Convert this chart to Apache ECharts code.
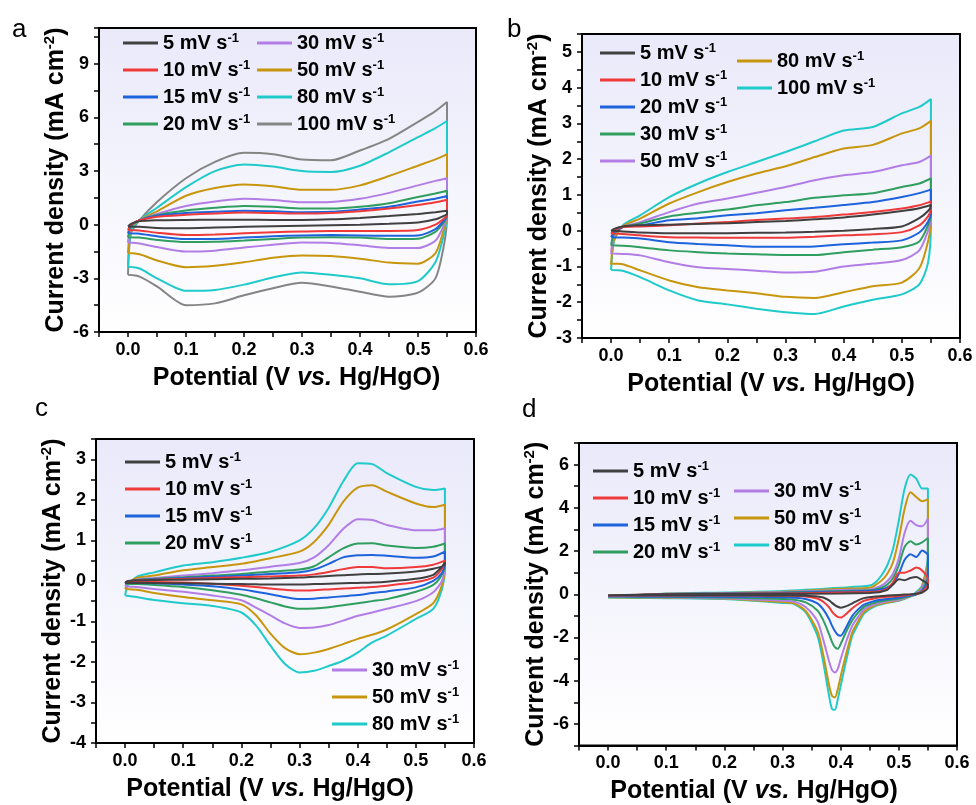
<!DOCTYPE html>
<html>
<head>
<meta charset="utf-8">
<script src="https://cdn.jsdelivr.net/npm/echarts@6/dist/echarts.min.js"></script>
<style>
  html, body { margin: 0; padding: 0; background: #fff; }
  #cv { width: 976px; height: 805px; }
</style>
</head>
<body>
<div id="cv"></div>
<script>
var myChart = echarts.init(document.getElementById('cv'));
var FONT = '"Liberation Sans", Arial, sans-serif';

//------------------------------------------ panel a (potential grid + upper/lower branches)
var potAUp = [0, 0.005, 0.02, 0.05, 0.1, 0.15, 0.2, 0.25, 0.3, 0.35, 0.4, 0.45, 0.5, 0.53, 0.55];
var potALo = [0.55, 0.545, 0.53, 0.5, 0.45, 0.4, 0.35, 0.3, 0.25, 0.2, 0.15, 0.1, 0.05, 0.02, 0];
var upA5   = [-0.1, 0.05, 0.2, 0.25, 0.27, 0.28, 0.28, 0.27, 0.27, 0.3, 0.38, 0.48, 0.6, 0.7, 0.78];
var loA5   = [0.6, 0.5, 0.3, 0.12, 0.05, 0.0, -0.03, -0.06, -0.09, -0.12, -0.16, -0.2, -0.18, -0.12, -0.1];
var upA10  = [-0.3, 0.0, 0.25, 0.45, 0.55, 0.63, 0.68, 0.65, 0.62, 0.65, 0.75, 0.9, 1.1, 1.25, 1.4];
var loA10  = [0.5, 0.35, 0.0, -0.3, -0.35, -0.35, -0.35, -0.38, -0.42, -0.48, -0.55, -0.58, -0.45, -0.32, -0.3];
var upA15  = [-0.48, -0.05, 0.25, 0.5, 0.65, 0.72, 0.78, 0.75, 0.7, 0.72, 0.85, 1.0, 1.3, 1.45, 1.6];
var loA15  = [0.5, 0.25, -0.25, -0.6, -0.62, -0.6, -0.58, -0.6, -0.65, -0.72, -0.8, -0.8, -0.65, -0.5, -0.48];
var upA20  = [-0.7, -0.1, 0.25, 0.55, 0.8, 0.95, 1.05, 1.0, 0.9, 0.9, 1.0, 1.2, 1.55, 1.75, 1.9];
var loA20  = [0.5, 0.15, -0.4, -0.78, -0.8, -0.72, -0.7, -0.72, -0.8, -0.88, -0.95, -0.97, -0.85, -0.72, -0.7];
var upA30  = [-1.0, -0.1, 0.25, 0.6, 1.05, 1.3, 1.45, 1.38, 1.25, 1.27, 1.45, 1.78, 2.2, 2.45, 2.6];
var loA30  = [0.5, 0.0, -0.9, -1.3, -1.3, -1.15, -1.02, -1.0, -1.12, -1.28, -1.45, -1.5, -1.25, -1.05, -1.0];
var upA50  = [-1.58, -0.2, 0.25, 0.75, 1.62, 2.05, 2.25, 2.15, 1.95, 1.95, 2.2, 2.72, 3.3, 3.65, 3.95];
var loA50  = [0.5, -0.2, -1.6, -2.18, -2.12, -1.9, -1.75, -1.72, -1.85, -2.1, -2.3, -2.38, -2.0, -1.65, -1.58];
var upA80  = [-2.35, -0.4, 0.25, 0.95, 2.1, 3.0, 3.37, 3.25, 3.0, 2.95, 3.3, 4.05, 4.9, 5.4, 5.8];
var loA80  = [0.5, -0.5, -2.1, -3.15, -3.33, -3.0, -2.8, -2.67, -2.95, -3.35, -3.65, -3.7, -3.0, -2.45, -2.35];
var upA100 = [-2.8, -0.5, 0.25, 1.27, 2.6, 3.51, 4.02, 3.94, 3.64, 3.6, 4.15, 4.8, 5.75, 6.35, 6.86];
var loA100 = [0.5, -1.1, -3.0, -3.8, -4.03, -3.75, -3.45, -3.25, -3.55, -3.95, -4.4, -4.5, -3.45, -2.9, -2.8];

//------------------------------------------ panel b
var potBUp = [0, 0.005, 0.02, 0.05, 0.1, 0.15, 0.2, 0.25, 0.3, 0.35, 0.4, 0.45, 0.5, 0.53, 0.55];
var potBLo = [0.55, 0.545, 0.53, 0.5, 0.45, 0.4, 0.35, 0.3, 0.25, 0.2, 0.15, 0.1, 0.05, 0.02, 0];
var upB5   = [0.0, 0.05, 0.12, 0.15, 0.17, 0.19, 0.21, 0.24, 0.27, 0.32, 0.37, 0.45, 0.55, 0.63, 0.72];
var loB5   = [0.7, 0.55, 0.35, 0.12, 0.05, 0.0, -0.03, -0.05, -0.06, -0.07, -0.07, -0.07, -0.05, -0.02, 0.0];
var upB10  = [-0.08, 0.0, 0.1, 0.12, 0.15, 0.2, 0.24, 0.3, 0.34, 0.38, 0.45, 0.52, 0.62, 0.71, 0.82];
var loB10  = [0.6, 0.4, 0.15, -0.04, -0.1, -0.13, -0.17, -0.2, -0.2, -0.2, -0.19, -0.18, -0.13, -0.09, -0.08];
var upB20  = [-0.18, -0.05, 0.1, 0.15, 0.29, 0.35, 0.43, 0.49, 0.57, 0.64, 0.72, 0.8, 0.94, 1.05, 1.15];
var loB20  = [0.5, 0.25, -0.05, -0.27, -0.33, -0.38, -0.44, -0.45, -0.45, -0.41, -0.37, -0.32, -0.22, -0.19, -0.18];
var upB30  = [-0.4, -0.1, 0.1, 0.2, 0.4, 0.5, 0.59, 0.71, 0.8, 0.92, 0.99, 1.05, 1.22, 1.32, 1.46];
var loB30  = [0.45, 0.15, -0.3, -0.46, -0.53, -0.6, -0.68, -0.68, -0.66, -0.64, -0.6, -0.55, -0.46, -0.42, -0.41];
var upB50  = [-0.62, -0.15, 0.1, 0.24, 0.52, 0.76, 0.9, 1.06, 1.22, 1.41, 1.55, 1.64, 1.83, 1.92, 2.1];
var loB50  = [0.4, 0.0, -0.55, -0.82, -0.92, -1.0, -1.15, -1.17, -1.12, -1.07, -1.02, -0.88, -0.69, -0.65, -0.64];
var upB80  = [-0.95, -0.25, 0.12, 0.34, 0.76, 1.08, 1.36, 1.6, 1.8, 2.06, 2.3, 2.4, 2.72, 2.86, 3.07];
var loB80  = [0.3, -0.3, -1.05, -1.45, -1.55, -1.72, -1.88, -1.85, -1.75, -1.67, -1.58, -1.39, -1.11, -0.94, -0.92];
var upB100 = [-1.1, -0.3, 0.15, 0.43, 0.94, 1.32, 1.64, 1.92, 2.2, 2.5, 2.8, 2.9, 3.28, 3.46, 3.68];
var loB100 = [0.2, -0.9, -1.5, -1.78, -1.93, -2.12, -2.33, -2.28, -2.18, -2.06, -1.95, -1.67, -1.3, -1.12, -1.1];

//------------------------------------------ panel c
var potCUp = [0, 0.005, 0.02, 0.05, 0.1, 0.15, 0.2, 0.25, 0.3, 0.325, 0.35, 0.375, 0.4, 0.425, 0.45, 0.5, 0.53, 0.55];
var potCLo = [0.55, 0.545, 0.53, 0.5, 0.45, 0.425, 0.4, 0.375, 0.35, 0.325, 0.3, 0.275, 0.25, 0.225, 0.2, 0.15, 0.1, 0.05, 0.02, 0];
var upC5  = [-0.05, 0.0, 0.01, 0.02, 0.03, 0.04, 0.05, 0.06, 0.08, 0.1, 0.12, 0.14, 0.16, 0.17, 0.18, 0.23, 0.3, 0.4];
var loC5  = [0.45, 0.35, 0.15, 0.05, -0.02, -0.04, -0.05, -0.06, -0.07, -0.08, -0.09, -0.09, -0.09, -0.085, -0.08, -0.07, -0.06, -0.05, -0.05, -0.05];
var upC10 = [-0.03, -0.01, 0.01, 0.03, 0.05, 0.07, 0.09, 0.11, 0.13, 0.16, 0.22, 0.29, 0.34, 0.34, 0.31, 0.34, 0.4, 0.5];
var loC10 = [0.5, 0.3, 0.08, -0.03, -0.12, -0.15, -0.17, -0.19, -0.21, -0.23, -0.24, -0.22, -0.19, -0.15, -0.12, -0.07, -0.04, -0.03, -0.03, -0.03];
var upC15 = [-0.05, -0.02, 0.02, 0.04, 0.07, 0.1, 0.13, 0.17, 0.21, 0.28, 0.42, 0.58, 0.63, 0.64, 0.62, 0.57, 0.6, 0.72];
var loC15 = [0.45, 0.2, 0.0, -0.16, -0.26, -0.3, -0.35, -0.38, -0.41, -0.44, -0.45, -0.4, -0.33, -0.27, -0.21, -0.13, -0.09, -0.06, -0.05, -0.05];
var upC20 = [-0.07, -0.03, 0.02, 0.05, 0.09, 0.13, 0.17, 0.23, 0.28, 0.36, 0.58, 0.8, 0.92, 0.93, 0.87, 0.81, 0.84, 0.92];
var loC20 = [0.4, 0.15, -0.1, -0.27, -0.45, -0.5, -0.55, -0.6, -0.65, -0.68, -0.69, -0.63, -0.53, -0.43, -0.34, -0.23, -0.15, -0.1, -0.08, -0.07];
var upC30 = [-0.14, -0.05, 0.03, 0.07, 0.13, 0.19, 0.26, 0.35, 0.44, 0.58, 0.88, 1.28, 1.52, 1.5, 1.38, 1.25, 1.25, 1.3];
var loC30 = [0.35, 0.0, -0.28, -0.5, -0.69, -0.78, -0.86, -0.98, -1.09, -1.15, -1.16, -1.05, -0.85, -0.66, -0.48, -0.36, -0.27, -0.2, -0.15, -0.14];
var upC50 = [-0.2, -0.08, 0.07, 0.13, 0.26, 0.34, 0.42, 0.56, 0.72, 0.96, 1.38, 1.95, 2.3, 2.36, 2.2, 1.91, 1.82, 1.88];
var loC50 = [0.3, -0.1, -0.55, -0.82, -1.2, -1.33, -1.43, -1.56, -1.68, -1.77, -1.81, -1.66, -1.3, -0.85, -0.58, -0.48, -0.4, -0.3, -0.22, -0.2];
var upC80 = [-0.36, -0.1, 0.1, 0.21, 0.38, 0.46, 0.57, 0.72, 1.0, 1.3, 1.8, 2.45, 2.9, 2.88, 2.66, 2.32, 2.24, 2.28];
var loC80 = [0.3, -0.2, -0.69, -0.94, -1.35, -1.52, -1.77, -1.97, -2.1, -2.22, -2.26, -2.05, -1.6, -1.1, -0.78, -0.62, -0.55, -0.47, -0.4, -0.36];

//------------------------------------------ panel d
var potDUp = [0, 0.1, 0.2, 0.3, 0.4, 0.45, 0.46, 0.47, 0.48, 0.49, 0.5, 0.51, 0.52, 0.53, 0.54, 0.55];
var potDLo = [0.55, 0.54, 0.53, 0.52, 0.5, 0.48, 0.46, 0.44, 0.43, 0.42, 0.41, 0.4, 0.395, 0.39, 0.385, 0.38, 0.37, 0.36, 0.34, 0.32, 0.3, 0.25, 0.2, 0.1, 0.05, 0];
var upD5  = [-0.05, 0.0, 0.01, 0.02, 0.04, 0.06, 0.08, 0.12, 0.2, 0.45, 0.7, 0.65, 0.75, 0.8, 0.65, 0.45];
var loD5  = [0.3, 0.08, 0.02, 0.0, -0.03, -0.06, -0.1, -0.18, -0.28, -0.42, -0.55, -0.62, -0.58, -0.5, -0.4, -0.28, -0.15, -0.1, -0.07, -0.06, -0.06, -0.05, -0.05, -0.05, -0.05, -0.05];
var upD10 = [-0.06, 0.0, 0.02, 0.04, 0.08, 0.1, 0.12, 0.15, 0.25, 0.55, 1.0, 1.0, 1.1, 1.24, 1.1, 0.7];
var loD10 = [0.45, 0.12, 0.02, -0.02, -0.08, -0.12, -0.18, -0.3, -0.45, -0.65, -0.9, -1.08, -1.05, -0.95, -0.8, -0.6, -0.35, -0.2, -0.1, -0.08, -0.07, -0.06, -0.06, -0.06, -0.06, -0.06];
var upD15 = [-0.09, 0.01, 0.03, 0.06, 0.12, 0.15, 0.18, 0.23, 0.32, 0.5, 0.95, 1.6, 1.85, 1.72, 2.02, 1.8];
var loD15 = [0.7, 0.15, 0.0, -0.05, -0.15, -0.22, -0.3, -0.48, -0.7, -1.0, -1.5, -1.92, -1.88, -1.7, -1.45, -1.15, -0.7, -0.42, -0.22, -0.16, -0.14, -0.12, -0.11, -0.1, -0.1, -0.09];
var upD20 = [-0.1, 0.01, 0.04, 0.08, 0.15, 0.18, 0.23, 0.3, 0.45, 0.75, 1.35, 2.2, 2.45, 2.3, 2.4, 2.6];
var loD20 = [0.9, 0.2, 0.0, -0.08, -0.2, -0.28, -0.38, -0.58, -0.85, -1.2, -1.7, -2.3, -2.52, -2.45, -2.2, -1.85, -1.2, -0.75, -0.38, -0.25, -0.22, -0.18, -0.15, -0.12, -0.11, -0.1];
var upD30 = [-0.12, 0.02, 0.05, 0.1, 0.2, 0.22, 0.29, 0.4, 0.6, 0.95, 1.65, 2.85, 3.4, 3.2, 3.15, 3.5];
var loD30 = [1.2, 0.3, 0.0, -0.1, -0.25, -0.33, -0.45, -0.7, -1.05, -1.45, -2.15, -3.0, -3.45, -3.62, -3.5, -3.1, -2.1, -1.25, -0.6, -0.35, -0.3, -0.24, -0.18, -0.14, -0.13, -0.12];
var upD50 = [-0.14, 0.02, 0.06, 0.12, 0.25, 0.3, 0.43, 0.63, 0.94, 1.48, 2.57, 3.96, 4.72, 4.5, 4.3, 4.4];
var loD50 = [1.5, 0.35, 0.05, -0.1, -0.28, -0.38, -0.5, -0.82, -1.25, -1.75, -2.7, -3.8, -4.4, -4.78, -4.7, -4.2, -2.8, -1.7, -0.78, -0.42, -0.36, -0.28, -0.2, -0.16, -0.15, -0.14];
var upD80 = [-0.15, 0.03, 0.08, 0.15, 0.3, 0.4, 0.56, 0.87, 1.33, 2.1, 3.42, 4.89, 5.54, 5.35, 4.89, 4.9];
var loD80 = [1.8, 0.4, 0.1, -0.1, -0.3, -0.4, -0.55, -0.9, -1.38, -1.92, -3.0, -4.24, -4.86, -5.35, -5.3, -4.7, -3.15, -1.92, -0.84, -0.45, -0.4, -0.3, -0.22, -0.18, -0.17, -0.15];

//------------------------------------------ colours
var cBlack = '#404040', cRed = '#f03a3a', cBlue = '#1d63dc', cGreen = '#2f9e5f',
    cPurple = '#b27ee6', cGold = '#c8960c', cCyan = '#1fcaca', cGray = '#858585';

// forward scan then reverse scan, closed back to the start
function loop(potUp, up, potLo, lo) {
  var pts = potUp.map(function (p, i) { return [p, up[i]]; });
  potLo.forEach(function (p, i) { pts.push([p, lo[i]]); });
  pts.push(pts[0]);
  return pts;
}

var series = [];
function addCurve(idx, name, color, potUp, up, potLo, lo) {
  series.push({
    name: name, type: 'line', xAxisIndex: idx, yAxisIndex: idx,
    data: loop(potUp, up, potLo, lo),
    symbol: 'none', smooth: 0.25, animation: false,
    lineStyle: { width: 2, color: color }, itemStyle: { color: color }
  });
}

addCurve(0, 'a100', cGray,   potAUp, upA100, potALo, loA100);
addCurve(0, 'a80',  cCyan,   potAUp, upA80,  potALo, loA80);
addCurve(0, 'a50',  cGold,   potAUp, upA50,  potALo, loA50);
addCurve(0, 'a30',  cPurple, potAUp, upA30,  potALo, loA30);
addCurve(0, 'a20',  cGreen,  potAUp, upA20,  potALo, loA20);
addCurve(0, 'a15',  cBlue,   potAUp, upA15,  potALo, loA15);
addCurve(0, 'a10',  cRed,    potAUp, upA10,  potALo, loA10);
addCurve(0, 'a5',   cBlack,  potAUp, upA5,   potALo, loA5);

addCurve(1, 'b100', cCyan,   potBUp, upB100, potBLo, loB100);
addCurve(1, 'b80',  cGold,   potBUp, upB80,  potBLo, loB80);
addCurve(1, 'b50',  cPurple, potBUp, upB50,  potBLo, loB50);
addCurve(1, 'b30',  cGreen,  potBUp, upB30,  potBLo, loB30);
addCurve(1, 'b20',  cBlue,   potBUp, upB20,  potBLo, loB20);
addCurve(1, 'b10',  cRed,    potBUp, upB10,  potBLo, loB10);
addCurve(1, 'b5',   cBlack,  potBUp, upB5,   potBLo, loB5);

addCurve(2, 'c80', cCyan,   potCUp, upC80, potCLo, loC80);
addCurve(2, 'c50', cGold,   potCUp, upC50, potCLo, loC50);
addCurve(2, 'c30', cPurple, potCUp, upC30, potCLo, loC30);
addCurve(2, 'c20', cGreen,  potCUp, upC20, potCLo, loC20);
addCurve(2, 'c15', cBlue,   potCUp, upC15, potCLo, loC15);
addCurve(2, 'c10', cRed,    potCUp, upC10, potCLo, loC10);
addCurve(2, 'c5',  cBlack,  potCUp, upC5,  potCLo, loC5);

addCurve(3, 'd80', cCyan,   potDUp, upD80, potDLo, loD80);
addCurve(3, 'd50', cGold,   potDUp, upD50, potDLo, loD50);
addCurve(3, 'd30', cPurple, potDUp, upD30, potDLo, loD30);
addCurve(3, 'd20', cGreen,  potDUp, upD20, potDLo, loD20);
addCurve(3, 'd15', cBlue,   potDUp, upD15, potDLo, loD15);
addCurve(3, 'd10', cRed,    potDUp, upD10, potDLo, loD10);
addCurve(3, 'd5',  cBlack,  potDUp, upD5,  potDLo, loD5);

//------------------------------------------ axes
var bg = { type: 'linear', x: 0, y: 0, x2: 0, y2: 1,
  colorStops: [{ offset: 0, color: '#e9e9fa' }, { offset: 1, color: '#ffffff' }] };
var grids = [
  { left: 99,  top: 28,  width: 377, height: 304 },
  { left: 582, top: 34,  width: 378, height: 304 },
  { left: 96,  top: 439, width: 378, height: 304 },
  { left: 579, top: 443, width: 378, height: 304 }
].map(function (g) {
  return Object.assign({ show: true, borderColor: '#000', borderWidth: 2, backgroundColor: bg }, g);
});

var labelStyle = { color: '#000', fontFamily: FONT, fontWeight: 'bold', fontSize: 18 };
var nameRich = {
  n: { fontFamily: FONT, fontWeight: 'bold', fontSize: 25, color: '#000', lineHeight: 28 },
  i: { fontFamily: FONT, fontWeight: 'bold', fontStyle: 'italic', fontSize: 25, color: '#000', lineHeight: 28 },
  s: { fontFamily: FONT, fontWeight: 'bold', fontSize: 15, color: '#000', lineHeight: 15, verticalAlign: 'top' }
};

function xAx(idx, shift) {
  return {
    type: 'value', gridIndex: idx, min: -0.05, max: 0.6, interval: 0.05,
    name: '{n|Potential (V }{i|vs.}{n| Hg/HgO)}', nameLocation: 'middle', nameGap: 32,
    nameTextStyle: { rich: nameRich, padding: shift > 0 ? [0, 0, 0, 2 * shift] : [0, -2 * shift, 0, 0] },
    axisLine: { show: true, onZero: false, lineStyle: { color: '#000', width: 2 } },
    axisTick: { show: true, inside: false, length: 5, lineStyle: { color: '#000', width: 1.5 } },
    axisLabel: Object.assign({ margin: 9, formatter: function (v) {
      var k = Math.round(v * 20);
      return (k >= 0 && k % 2 === 0) ? (k / 20).toFixed(1) : '';
    } }, labelStyle),
    splitLine: { show: false }
  };
}

function yAx(idx, min, max, step, major) {
  return {
    type: 'value', gridIndex: idx, min: min, max: max, interval: step,
    name: '{n|Current density (mA cm}{s|-2}{n|)}', nameLocation: 'middle', nameGap: 23,
    nameTextStyle: { rich: nameRich },
    axisLine: { show: true, onZero: false, lineStyle: { color: '#000', width: 2 } },
    axisTick: { show: true, inside: false, length: 5, lineStyle: { color: '#000', width: 1.5 } },
    axisLabel: Object.assign({ margin: 10, formatter: function (v) {
      var k = Math.round(v / major);
      if (Math.abs(v / major - k) > 1e-6 || v > max - 1e-6 && max % major !== 0) return '';
      return String(k * major);
    } }, labelStyle),
    splitLine: { show: false }
  };
}

//------------------------------------------ legends
var legRich = {
  n: { fontFamily: FONT, fontWeight: 'bold', fontSize: 20, color: '#000', lineHeight: 22 },
  s: { fontFamily: FONT, fontWeight: 'bold', fontSize: 13, color: '#000', lineHeight: 13, verticalAlign: 'top' }
};
function leg(left, top, names) {
  return {
    left: left, top: top, orient: 'vertical', padding: 0, itemGap: 6,
    icon: 'rect', itemWidth: 35, itemHeight: 3, selectedMode: false, data: names,
    formatter: function (name) { return '{n|' + name.slice(1) + ' mV s}{s|-1}'; },
    textStyle: { rich: legRich }
  };
}

function letter(ch, x, y) {
  return { type: 'text', left: x, top: y,
    style: { text: ch, font: '26px ' + FONT, fill: '#000' } };
}

option = {
  backgroundColor: '#fff',
  animation: false,
  grid: grids,
  xAxis: [xAx(0, 9), xAx(1, 0), xAx(2, -15), xAx(3, -14)],
  yAxis: [yAx(0, -6, 11, 1.5, 3), yAx(1, -3, 5.5, 0.5, 1), yAx(2, -4, 3.5, 0.5, 1), yAx(3, -7, 7, 1, 2)],
  legend: [
    leg(123, 32, ['a5', 'a10', 'a15', 'a20']),
    leg(257, 32, ['a30', 'a50', 'a80', 'a100']),
    leg(600, 42, ['b5', 'b10', 'b20', 'b30', 'b50']),
    leg(737, 50, ['b80', 'b100']),
    leg(125, 451, ['c5', 'c10', 'c15', 'c20']),
    leg(332, 659, ['c30', 'c50', 'c80']),
    leg(593, 460, ['d5', 'd10', 'd15', 'd20']),
    leg(734, 480, ['d30', 'd50', 'd80'])
  ],
  graphic: [letter('a', 12, 17), letter('b', 507, 17), letter('c', 35, 396), letter('d', 522, 397)],
  series: series
};

myChart.setOption(option);
</script>
</body>
</html>
